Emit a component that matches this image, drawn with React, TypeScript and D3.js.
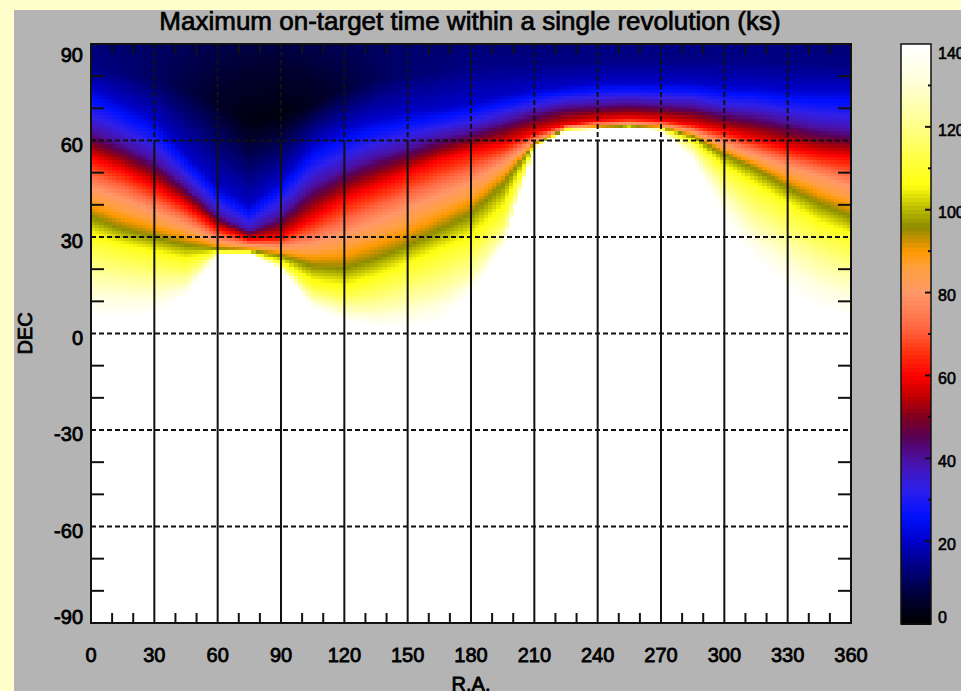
import React from 'react';
import * as d3 from 'd3';

// ---- data ----
// RA columns (deg) where the band positions were read
const raCols = [0, 15, 30, 45, 60, 75, 90, 105, 120, 135, 150, 165, 180, 195, 210, 225, 240, 255, 270, 285, 300, 315, 330, 345, 360];

// value (ks) at the pole, DEC = 90
const poleVal = [13, 12, 11, 10, 9, 8, 8, 9, 10, 11, 12, 12, 13, 13, 13, 13, 14, 14, 14, 14, 14, 14, 14, 13, 13];
// darkest point of each column above the blue band
const coreDec = [83, 81, 79, 76, 72, 66, 68, 72, 76, 79, 81, 82, 83, 84, 84, 84, 85, 85, 85, 85, 85, 85, 84, 84, 83];
const coreVal = [14, 13, 11, 8, 5, 2, 2, 4, 7, 10, 12, 13, 14, 14, 14, 14, 14, 14, 14, 14, 14, 14, 14, 14, 14];

// DEC where the on-target time reaches each level
const dec20 = [77, 72, 67, 56, 46, 40, 48, 59, 64, 67, 69, 70, 72, 74, 76, 77, 78, 78, 78, 78, 77, 77, 76, 76, 76];
const dec40 = [63, 59, 54, 46, 37, 32, 37, 46, 51, 55, 58, 61, 63, 66, 69, 71, 71.5, 72, 71.5, 71, 69, 68, 66, 64, 63];
const dec60 = [55, 51, 46, 40, 33, 29.5, 30, 36, 42, 46, 50, 54, 57, 59, 62.5, 65, 66.5, 67, 66.5, 65, 63, 60.5, 58, 56, 55];
const dec80 = [45.5, 42, 38, 34, 29, 27.5, 27, 28, 31, 35, 39, 43, 47, 53, 60, 64.2, 65, 65.5, 65, 63, 59, 55.5, 52, 49, 45.5];
const dec95 = [37, 33, 30.5, 28, 26.5, 26, 24.5, 21.5, 21, 24, 28, 33, 38, 47, 59, 63.8, 64.3, 64.6, 64.2, 61.5, 56, 51.5, 46, 41, 37];
const dec110 = [29, 26, 24, 22, 25.5, 25.5, 22, 15, 13, 16, 20, 24, 28, 37, 58.5, 63.5, 64, 64.4, 63.8, 60, 51, 45, 39, 33, 29];
const dec125 = [17, 16, 15, 16, 25, 25.2, 21, 11, 8, 8, 10, 13, 18, 30, 58.2, 63.2, 63.7, 64.2, 63.4, 57, 44, 34, 27, 21, 17];
const dec140 = [5, 5, 6, 12, 24.5, 25, 20, 8, 4, 2, 2, 4, 12, 27, 58, 63, 63.5, 64, 63, 54, 36, 23, 14, 8, 5];

const levelValues = [20, 40, 60, 80, 95, 110, 125, 140];
const levelDecs = [dec20, dec40, dec60, dec80, dec95, dec110, dec125, dec140];

// colour table (ks -> colour)
const cbStops = [0, 6, 13, 20, 26, 33, 40, 45, 50, 55, 60, 66, 72, 80, 86, 90, 93, 96, 100, 106, 114, 122, 132, 140];
const cbColors = ['#000000', '#00002e', '#000078', '#0000c8', '#0010ff', '#3020e8', '#4c10a0', '#580058', '#800020', '#c00000', '#ff0000', '#ff3510', '#ff6a45', '#ff9868', '#ffa040', '#ff9a00', '#c49000', '#8c8c00', '#b8b800', '#ffff10', '#ffff50', '#ffff98', '#ffffe0', '#ffffff'];

const raTicks = [0, 30, 60, 90, 120, 150, 180, 210, 240, 270, 300, 330, 360];
const decTicks = [-90, -60, -30, 0, 30, 60, 90];
const cbTicks = [0, 20, 40, 60, 80, 100, 120, 140];

const font = 'Liberation Sans, Arial, Helvetica, sans-serif';

const App = () => {
    const W = 961, H = 691;
    const plot = { left: 91, top: 44, right: 851, bottom: 623 };
    const bar = { left: 901, right: 931, top: 44, bottom: 624 };

    const x = d3.scaleLinear().domain([0, 360]).range([plot.left, plot.right]);
    const y = d3.scaleLinear().domain([-90, 90]).range([plot.bottom, plot.top]);
    const yBar = d3.scaleLinear().domain([0, 140]).range([bar.bottom, bar.top]);
    const color = d3.scaleLinear<string>().domain(cbStops).range(cbColors).clamp(true);

    // each band edge as a function of RA
    const byRa = (arr) => d3.scaleLinear().domain(raCols).range(arr);
    const poleS = byRa(poleVal), coreDS = byRa(coreDec), coreVS = byRa(coreVal);
    const levelS = levelDecs.map(byRa);

    const raStep = 2, decStep = 1;
    const cells = [];
    d3.range(0, 360, raStep).forEach(ra => {
        const rc = ra + raStep / 2;
        const profile = d3.scaleLinear()
            .domain([90, coreDS(rc), ...levelS.map(s => s(rc))])
            .range([poleS(rc), coreVS(rc), ...levelValues])
            .clamp(true);
        d3.range(-4, 90, decStep).forEach(dec => {
            const v = profile(dec + decStep / 2);
            if (v < 139.5) cells.push({ ra, dec, v });
        });
    });

    const minorDec = d3.range(-80, 90, 10).filter(d => d % 30 !== 0);
    const minorRa = d3.range(10, 360, 10).filter(d => d % 30 !== 0);
    const cbMinor = d3.range(10, 140, 20);

    const clampY = (v, lo, hi) => Math.max(lo, Math.min(hi, v));
    const labelStyle = { fontFamily: font, fill: '#000', stroke: '#000', strokeWidth: 0.8 };

    return (
        <svg width={W} height={H} style={{ position: 'absolute', left: 0, top: 0, display: 'block' }}>
            <rect x={0} y={0} width={W} height={H} fill="#ffffcc" />
            <rect x={14} y={10} width={W - 14} height={H - 10} fill="#b4b4b4" />

            <text x={470} y={30} textAnchor="middle" fontSize={26} {...labelStyle} strokeWidth={0.7}>
                Maximum on-target time within a single revolution (ks)
            </text>

            {/* heat map */}
            <rect x={plot.left} y={plot.top} width={plot.right - plot.left} height={plot.bottom - plot.top} fill="#ffffff" />
            <g shapeRendering="crispEdges">
                {cells.map((c, i) => (
                    <rect key={i}
                        x={x(c.ra)} y={y(Math.min(90, c.dec + decStep))}
                        width={x(c.ra + raStep) - x(c.ra) + 0.6}
                        height={y(Math.max(-90, c.dec)) - y(Math.min(90, c.dec + decStep)) + 0.6}
                        fill={color(c.v)} />
                ))}
            </g>

            {/* grid */}
            <g stroke="#111" strokeWidth={2}>
                {decTicks.filter(d => d > -90 && d < 90).map(d => (
                    <line key={'h' + d} x1={plot.left} x2={plot.right} y1={y(d)} y2={y(d)} strokeDasharray="5,3" />
                ))}
                {raTicks.filter(r => r > 0 && r < 360).map(r => (
                    <g key={'v' + r}>
                        <line x1={x(r)} x2={x(r)} y1={y(90)} y2={y(60)} strokeDasharray="5,3" />
                        <line x1={x(r)} x2={x(r)} y1={y(60)} y2={y(-90)} />
                    </g>
                ))}
                {minorDec.map(d => (
                    <g key={'md' + d}>
                        <line x1={plot.left} x2={plot.left + 13} y1={y(d)} y2={y(d)} />
                        <line x1={plot.right - 13} x2={plot.right} y1={y(d)} y2={y(d)} />
                    </g>
                ))}
                {minorRa.map(r => (
                    <g key={'mr' + r}>
                        <line x1={x(r)} x2={x(r)} y1={plot.bottom} y2={plot.bottom - 10} />
                        <line x1={x(r)} x2={x(r)} y1={plot.top} y2={plot.top + 10} />
                    </g>
                ))}
                <rect x={plot.left} y={plot.top} width={plot.right - plot.left} height={plot.bottom - plot.top} fill="none" />
            </g>

            {/* axis labels */}
            <g fontSize={20} {...labelStyle}>
                {decTicks.map(d => (
                    <text key={'dl' + d} x={83} y={clampY(y(d) + 4, plot.top + 11, plot.bottom - 6)} dy="0.36em" textAnchor="end">{d}</text>
                ))}
                {raTicks.map(r => (
                    <text key={'rl' + r} x={x(r)} y={plot.bottom + 32} dy="0.36em" textAnchor="middle">{r}</text>
                ))}
                <text x={(plot.left + plot.right) / 2} y={691} textAnchor="middle">R.A.</text>
                <text transform={`translate(32,${(plot.top + plot.bottom) / 2}) rotate(-90)`} textAnchor="middle">DEC</text>
            </g>

            {/* colour bar */}
            <g shapeRendering="crispEdges">
                {d3.range(0, 140, 1).map(v => (
                    <rect key={'cb' + v} x={bar.left} y={yBar(v + 1)} width={bar.right - bar.left}
                        height={yBar(v) - yBar(v + 1) + 0.6} fill={color(v + 0.5)} />
                ))}
            </g>
            <g stroke="#111">
                <rect x={bar.left} y={bar.top} width={bar.right - bar.left} height={bar.bottom - bar.top} fill="none" strokeWidth={1.5} />
                {cbTicks.filter(v => v > 0 && v < 140).map(v => (
                    <line key={'ct' + v} x1={bar.right - 6} x2={bar.right} y1={yBar(v)} y2={yBar(v)} strokeWidth={2} />
                ))}
                {cbMinor.map(v => (
                    <line key={'cm' + v} x1={bar.right - 3} x2={bar.right} y1={yBar(v)} y2={yBar(v)} strokeWidth={2} />
                ))}
            </g>
            <g fontSize={16} {...labelStyle} strokeWidth={0.6}>
                {cbTicks.map(v => (
                    <text key={'cl' + v} x={938} y={clampY(yBar(v) + 3, bar.top + 9, bar.bottom - 7)} dy="0.36em">{v}</text>
                ))}
            </g>
        </svg>
    );
};

export default App;
